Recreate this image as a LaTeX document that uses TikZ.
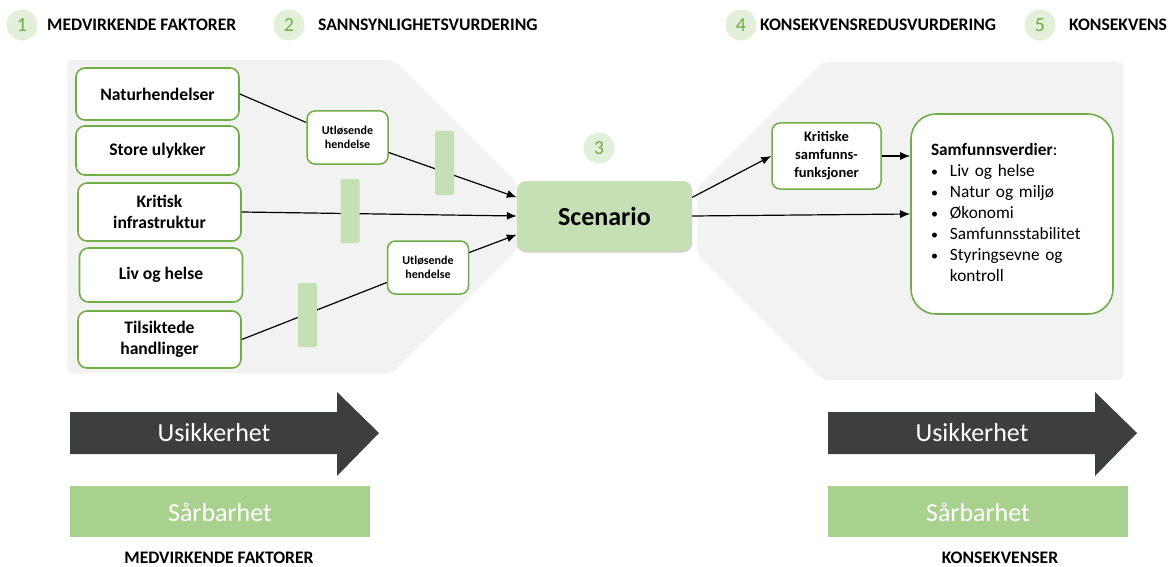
\documentclass[tikz,border=0pt]{standalone}
\usepackage{fontspec}
\setmainfont{Carlito}
\usetikzlibrary{arrows.meta,shadows}

\definecolor{gruen}{HTML}{70AD47}
\definecolor{hellgruen}{HTML}{C5E0B4}
\definecolor{kreisgruen}{HTML}{E2F0D9}
\definecolor{balkengruen}{HTML}{A9D18E}
\definecolor{hgrau}{HTML}{F2F2F2}
\definecolor{dunkel}{HTML}{3D3F3E}

\newcommand{\punkt}{{\fontsize{14}{14}\selectfont\textbullet}}

\tikzset{
  faktor/.style={draw=gruen, line width=1.6pt, rounded corners=9pt, fill=white,
    minimum width=163pt, minimum height=52pt, align=center,
    font=\fontsize{17.6}{21}\selectfont\bfseries},
  ausloeser/.style={draw=gruen, line width=1.5pt, rounded corners=8pt, fill=white,
    minimum width=81pt, minimum height=53pt, align=center, inner sep=2pt,
    font=\fontsize{12}{14}\selectfont\bfseries},
  balken/.style={fill=hellgruen, rounded corners=2pt, minimum width=19pt,
    minimum height=64pt, inner sep=0pt},
  nummer/.style={circle, fill=kreisgruen, text=gruen, minimum size=31pt,
    inner sep=0pt, font=\fontsize{20}{24}\selectfont},
  kopf/.style={anchor=west, inner sep=0pt, font=\fontsize{17.6}{20}\selectfont\bfseries},
  szenario/.style={fill=hellgruen, rounded corners=9pt, minimum width=175pt,
    minimum height=70pt, font=\fontsize{26}{30}\selectfont\bfseries,
    drop shadow={shadow xshift=0pt, shadow yshift=-1.5pt, opacity=0.3, fill=black!60}},
  werte/.style={draw=gruen, line width=1.6pt, rounded corners=25pt, fill=white,
    text width=162pt, inner xsep=20pt, minimum height=200pt, align=left,
    font=\fontsize{17.3}{21}\selectfont},
  pfeil/.style={line width=1.2pt, -{Latex[length=10pt,width=8pt]}},
  linie/.style={line width=1.2pt},
  weiss/.style={text=white, inner sep=0pt, font=\fontsize{26}{30}\selectfont},
}

\begin{document}
\begin{tikzpicture}[x=1pt, y=-1pt]
    \useasboundingbox (0,0) rectangle (1169,567);

    % Grauer Hintergrund links und rechts
    \fill[hgrau, rounded corners=4pt] (67,60) -- (393,60) -- (517,184) -- (517,250)
        -- (393,373) -- (67,373) -- cycle;
    \fill[hgrau, rounded corners=6pt] (697,188) -- (823,62) -- (1123,62) -- (1123,380)
        -- (823,380) -- (697,254) -- cycle;

    % Nummern und Ueberschriften
    \foreach \n/\cx/\tx/\t in {1/22/47/MEDVIRKENDE FAKTORER, 2/289/318/SANNSYNLIGHETSVURDERING,
        4/741/760/KONSEKVENSREDUSVURDERING, 5/1040/1069/KONSEKVENS} {
        \node[nummer] (c\n) at (\cx,25) {\n};
        \node[kopf] (h\n) at (\tx,25) {\t};
    }

    % Medvirkende faktorer
    \node[faktor] (nat) at (157.5,94) {Naturhendelser};
    \node[faktor, minimum height=49pt] (sto) at (157.5,150.5) {Store ulykker};
    \node[faktor, minimum height=58pt] (kri) at (159.5,212) {Kritisk\\infrastruktur};
    \node[faktor, minimum height=54pt] (liv) at (161,275) {Liv og helse};
    \node[faktor, minimum height=57pt] (til) at (159.5,339.5) {Tilsiktede\\handlinger};

    % Utloesende hendelser
    \node[ausloeser] (u1) at (347.5,137.5) {Utløsende\\hendelse};
    \node[ausloeser] (u2) at (428,267.5) {Utløsende\\hendelse};

    % Scenario in der Mitte
    \node[nummer] (c3) at (599,148) {3};
    \node[szenario] (scen) at (604.5,216) {Scenario};

    % Konsekvenser
    \node[ausloeser, font=\fontsize{14.5}{18}\selectfont\bfseries, minimum width=109pt,
        minimum height=66pt] (kfs) at (826.5,156) {Kritiske\\samfunns-\\funksjoner};
    \node[werte] (sam) at (1012,214) {%
        \begin{tabular}{@{}l@{\hspace{12pt}}l@{}}
        \multicolumn{2}{@{}l@{}}{\textbf{Samfunnsverdier}:}\\
        \punkt & Liv og helse\\
        \punkt & Natur og miljø\\
        \punkt & Økonomi\\
        \punkt & Samfunnsstabilitet\\
        \punkt & Styringsevne og\\
               & kontroll
        \end{tabular}};

    % Verbindungen
    \draw[linie] (nat.east) -- (u1.160);
    \draw[pfeil] (u1.-20) -- (scen.168);
    \draw[pfeil] (kri.east) -- (scen.west);
    \draw[linie] (til.east) -- (u2.200);
    \draw[pfeil] (u2.20) -- (scen.192);
    \draw[pfeil] (scen.12) -- (kfs.west);
    \draw[pfeil] (kfs.east) -- (kfs.east -| sam.west);
    \draw[pfeil] (scen.east) -- (sam.west);

    % Barrieren
    \node[balken] (b1) at (444.5,163) {};
    \node[balken] (b2) at (350,211) {};
    \node[balken] (b3) at (307.5,315) {};

    % Usikkerhet und Saarbarhet unten
    \foreach \x/\l/\t in {70/219/MEDVIRKENDE FAKTORER, 828/1000/KONSEKVENSER} {
        \fill[dunkel] (\x,412) -- (\x+267,412) -- (\x+267,392) -- (\x+309,433)
            -- (\x+267,476) -- (\x+267,454) -- (\x,454) -- cycle;
        \node[weiss] (us\x) at (\x+144,433) {Usikkerhet};
        \fill[balkengruen] (\x,486) rectangle (\x+300,537);
        \node[weiss] (sb\x) at (\x+150,512) {Sårbarhet};
        \node[kopf, anchor=center] (f\x) at (\l,558) {\t};
    }
\end{tikzpicture}
\end{document}
